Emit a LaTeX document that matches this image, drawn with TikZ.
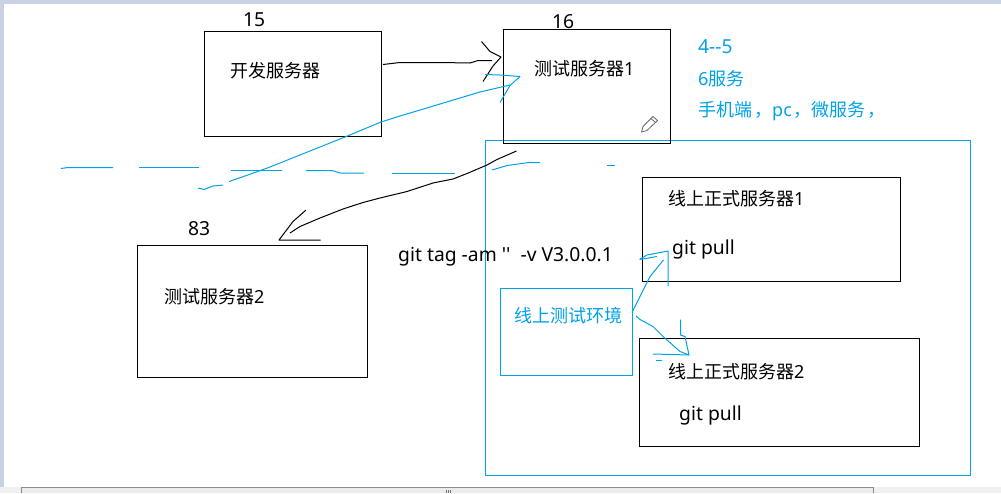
\documentclass[tikz,border=0pt]{standalone}
\usepackage{fontspec}
\newfontfamily\cjkfont{Noto Sans CJK SC}
\newfontfamily\latinfont{Noto Sans}
\usetikzlibrary{positioning}
\definecolor{inkcyan}{HTML}{00A2E8}
\definecolor{framegray}{HTML}{C8D2E4}
\newcommand{\widecomma}{\hspace{2pt}，}
\tikzset{
  serverbox/.style={rectangle, draw=black, line width=1pt, inner sep=0pt},
  envbox/.style={rectangle, draw=inkcyan, line width=1pt, inner sep=0pt},
  lab/.style={anchor=west, inner sep=0pt, font=\cjkfont\fontsize{18}{20}\selectfont, text=black},
  latinlab/.style={lab, font=\latinfont\fontsize{19.3}{22}\selectfont},
  bluelab/.style={lab, text=inkcyan},
  pen/.style={draw=black, line width=1pt, line join=round},
  bluepen/.style={draw=inkcyan, line width=1pt, line join=round},
}
\begin{document}
\begin{tikzpicture}[x=1pt, y=-1pt]
  \useasboundingbox (0,0) rectangle (1001,493);
  % window frame
  \fill[framegray] (0,0) rectangle (1001,493);
  \fill[white] (4,4) rectangle (1001,487);
  \fill[black!6] (0,487) rectangle (1001,493);
  \draw[black!45, fill=black!8] (21.5,493) -- (21.5,487.5) -- (873.5,487.5) -- (873.5,493);
  \draw[black!55] (446.5,490) -- (446.5,493) (448.5,490) -- (448.5,493) (450.5,490) -- (450.5,493);

  % boxes
  \node[envbox, minimum width=485pt, minimum height=335pt] (online) at (728,308) {};
  \node[serverbox, minimum width=177pt, minimum height=105pt] (dev) at (293,84) {};
  \node[serverbox, minimum width=167pt, minimum height=114pt] (test1) at (587,86.5) {};
  \node[serverbox, minimum width=230pt, minimum height=132pt] (test2) at (252.5,311.5) {};
  \node[serverbox, minimum width=258pt, minimum height=104pt] (prod1) at (771.5,229.5) {};
  \node[serverbox, minimum width=280pt, minimum height=108pt] (prod2) at (779.5,392.5) {};
  \node[envbox, minimum width=132pt, minimum height=87pt] (staging) at (566.5,332) {};

  % labels
  \node[latinlab] (ip15) at (243,20) {15};
  \node[latinlab] (ip16) at (552,22) {16};
  \node[latinlab] (ip83) at (188,229) {83};
  \node[lab] (devlab) at (230,71) {开发服务器};
  \node[lab] (test1lab) at (534,69) {测试服务器{\latinfont 1}};
  \node[lab] (test2lab) at (164,297) {测试服务器{\latinfont 2}};
  \node[lab] (prod1lab) at (668,199) {线上正式服务器{\latinfont 1}};
  \node[latinlab] (pull1) at (672,249) {git pull};
  \node[lab] (prod2lab) at (668,372) {线上正式服务器{\latinfont 2}};
  \node[latinlab] (pull2) at (679,415) {git pull};
  \node[latinlab] (taglab) at (398,257) {git tag -am ''\ \ -v V3.0.0.1};
  \node[bluelab] (stagelab) at (514,316) {线上测试环境};
  \node[latinlab, text=inkcyan] (note1) at (698,47) {4--5};
  \node[bluelab] (note2) at (698,79) {{\latinfont 6}服务};
  \node[bluelab] (note3) at (698,111) {手机端\widecomma{\latinfont pc}\widecomma 微服务\widecomma};

  % freehand ends
  \coordinate (devout) at (383,64.5);
  \coordinate (tipa) at (501,57);
  \coordinate (backout) at (198,188);
  \coordinate (tipb) at (520,76.5);
  \coordinate (test1out) at (516.5,151);
  \coordinate (tipc) at (279,240);
  \coordinate (stageup) at (632,312.5);
  \coordinate (tipd) at (668,251);
  \coordinate (stagedown) at (636,316);
  \coordinate (tipe) at (689,355);

  % dev to test1
  \draw[pen] (devout) -- (400,62.5) -- (440,62.5) -- (470,63) -- (478,60.5) -- (492,60.5);
  \draw[pen] (481.5,41.5) -- (490,51.5) -- (tipa) -- (493,66) -- (483,81.5);

  % test2 back to test1
  \draw[bluepen] (backout) -- (204,189.5) -- (213,186) -- (223,185);
  \draw[bluepen] (229,181.5) -- (245,176) -- (270,167) -- (300,155) -- (325,145) -- (345,137)
    -- (381,122) -- (400,116) -- (440,104) -- (480,92) -- (510,85);
  \draw[bluepen] (485,74.5) -- (500,75) -- (tipb) -- (510,85.5) -- (500,102.5);

  % dashed split line, by hand
  \draw[bluepen] (61,168.5) -- (68,167.5) -- (113,167.5);
  \draw[bluepen] (139,167.5) -- (199,167.5);
  \draw[bluepen] (231,170.5) -- (282,170.5);
  \draw[bluepen] (306,170.5) -- (332,170.5) -- (340,173) -- (364,173);
  \draw[bluepen] (392,173.5) -- (455,173.5);
  \draw[bluepen] (492,170) -- (507,165.5) -- (529,162.5) -- (540,162.5);
  \draw[bluepen] (607,165.5) -- (615,165.5);

  % test1 to test2
  \draw[pen] (test1out) -- (497,159.5) -- (487,165) -- (467,173.5) -- (453,179) -- (433,183) -- (407,191.5)
    -- (380,198) -- (363,202.5) -- (343,209) -- (320,218) -- (300,226.5) -- (290,233);
  \draw[pen] (306,210) -- (293,221.5) -- (tipc) -- (320.5,240);

  % staging to prod1
  \draw[bluepen] (stageup) -- (640,296.5) -- (650,276.5) -- (663.5,260);
  \draw[bluepen] (639.5,259.5) -- (647,255) -- (tipd) -- (668,286);
  \draw[bluepen] (640,259.5) -- (657,256.5);

  % staging to prod2
  \draw[bluepen] (stagedown) -- (640,319.5) -- (653,326.5) -- (663,336.5) -- (680,351.5) -- (tipe);
  \draw[bluepen] (653,354) -- (tipe) -- (685,336.5) -- (680.5,335) -- (680.5,319.5);
  \draw[bluepen] (655.5,360) -- (661.5,360);

  % pencil mark
  \draw[black!60, fill=white, line width=0.8pt, line join=round]
    (641.5,132) -- (643,126.5) -- (653,116.5) -- (657.5,120.5) -- (647,130.5) -- cycle;
  \draw[black!60, line width=0.8pt] (651,118.5) -- (655.5,122.5);
\end{tikzpicture}
\end{document}
